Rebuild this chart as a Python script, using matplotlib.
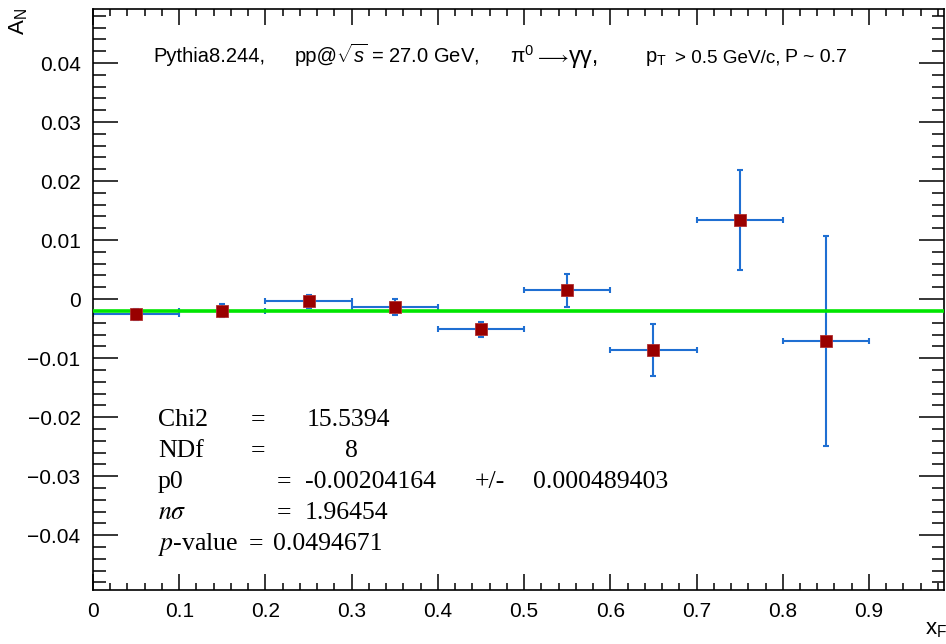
import matplotlib
matplotlib.use('Agg')
import matplotlib.pyplot as plt
from matplotlib.ticker import MultipleLocator, FuncFormatter

# data
xf = [0.05, 0.15, 0.25, 0.35, 0.45, 0.55, 0.65, 0.75, 0.85]
xf_err = [0.05] * 9
an = [-0.0026, -0.0020, -0.0004, -0.0013, -0.0051, 0.0015, -0.0086, 0.0134, -0.0071]
an_err = [0.0009, 0.0011, 0.0011, 0.0014, 0.0013, 0.0028, 0.0044, 0.0084, 0.0178]
p0 = -0.00204164

# fit box: (text, x pixel) pieces per line, baselines in pixels
stat_rows = [
    [('Chi2', 158), ('=', 251), ('15.5394', 307)],
    [('NDf', 158), ('=', 251), ('8', 345)],
    [('p0', 158), ('=', 277), ('-0.00204164', 305), ('+/-', 475), ('0.000489403', 533)],
    [(r'$n\sigma$', 158), ('=', 277), ('1.96454', 305)],
    [(r'$p$-value', 158), ('=', 249), ('0.0494671', 273)],
]
stat_base = [426, 457, 488, 519, 550]

# header pieces: (text, x pixel, fontsize)
title_parts = [('Pythia8.244,', 153, 14.5), ('pp@', 295, 14.5),
               (r'$\sqrt{s}$ = 27.0 GeV,', 336, 14.5),
               ('\u03c0$^{0}$', 510, 15),
               (r'$\longrightarrow$', 534, 14), ('\u03b3\u03b3,', 569, 17),
               (r'p$_{\mathrm{T}}$', 645, 14.5),
               ('> 0.5 GeV/c,', 675, 13.6), ('P ~ 0.7', 785, 14)]

W, H = 946, 644
plt.rcParams.update({'font.family': ['Liberation Sans', 'DejaVu Sans'],
                     'mathtext.fontset': 'custom', 'mathtext.rm': 'Liberation Sans',
                     'mathtext.it': 'Liberation Sans:italic'})
fig = plt.figure(figsize=(W / 100, H / 100), dpi=100)
ax = fig.add_axes([93 / W, 1 - 589.5 / H, (944 - 93) / W, (589.5 - 9.3) / H])

ax.errorbar(xf, an, xerr=xf_err, yerr=an_err, fmt='none', ecolor='#1f6fd2',
            elinewidth=1.5, capsize=2.5, capthick=1.5, zorder=2)
ax.axhline(p0, color='#00e600', lw=2.6, zorder=3)
ax.plot(xf, an, 's', color='#990000', ms=8.5, mec='#b03030', mew=0.6, zorder=4)

ax.set_xlim(0, 0.987)
ax.set_ylim(-0.0492, 0.0491)
ax.xaxis.set_major_locator(MultipleLocator(0.1))
ax.xaxis.set_minor_locator(MultipleLocator(0.02))
ax.yaxis.set_major_locator(MultipleLocator(0.01))
ax.yaxis.set_minor_locator(MultipleLocator(0.002))
ax.xaxis.set_major_formatter(FuncFormatter(lambda v, p: '0' if abs(v) < 1e-9 else f'{v:.1f}'))
ax.yaxis.set_major_formatter(FuncFormatter(
    lambda v, p: '0' if abs(v) < 1e-9 else f'{v:.2f}'.replace('-', '\u2212')))
for s in ax.spines.values():
    s.set_linewidth(1.2)
ax.tick_params(which='both', direction='in', top=True, right=True, labelsize=15, width=1.1)
ax.tick_params(axis='y', which='major', length=18, pad=9)
ax.tick_params(axis='y', which='minor', length=9)
ax.tick_params(axis='x', which='major', length=11.5, pad=9)
ax.tick_params(axis='x', which='minor', length=5)

fig.text(19 / W, 1 - 22 / H, r'A$_\mathrm{N}$', rotation=90, fontsize=16, ha='center', va='center')
fig.text(936 / W, 1 - 630 / H, r'x$_\mathrm{F}$', fontsize=16, ha='center', va='center')

for txt, x, fs in title_parts:
    fig.text(x / W, 1 - 62.5 / H, txt, fontsize=fs, va='baseline', ha='left')

for row, yb in zip(stat_rows, stat_base):
    for txt, x in row:
        fig.text(x / W, 1 - yb / H, txt, fontsize=18.5, family='Liberation Serif',
                 va='baseline', ha='left', math_fontfamily='stix')

fig.savefig('out.png', dpi=100)
